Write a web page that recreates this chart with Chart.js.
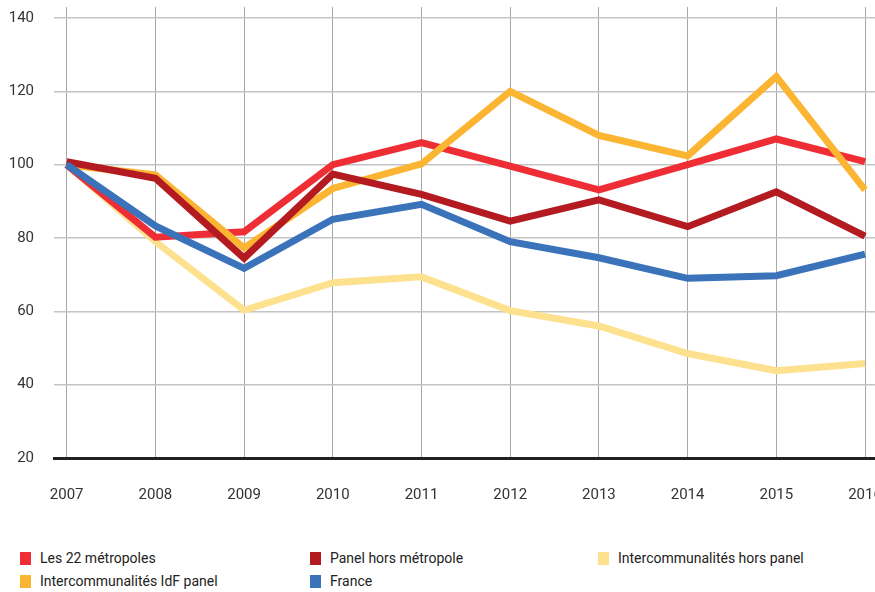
<!DOCTYPE html>
<html>
<head>
<meta charset="utf-8">
<script src="https://cdn.jsdelivr.net/npm/chart.js@4/dist/chart.umd.min.js"></script>
<style>
  html, body { margin: 0; padding: 0; background: #fff; overflow: hidden; }
  body { width: 875px; height: 592px; position: relative; font-family: "Roboto", "Liberation Sans", sans-serif; }
  #wrap { position: absolute; left: 0; top: 0; width: 895px; height: 520px; }
  .legend { position: absolute; left: 0; top: 550px; width: 875px; font-size: 14px; color: #222; }
  .item { position: absolute; height: 16px; line-height: 16px; white-space: nowrap; }
  .item i { display: inline-block; width: 11px; height: 13px; vertical-align: -2px; margin-right: 9px; }
</style>
</head>
<body>
<div id="wrap"><canvas id="chart"></canvas></div>
<div class="legend" id="legend"></div>
<script>
(function () {
  "use strict";

  var years = [2007, 2008, 2009, 2010, 2011, 2012, 2013, 2014, 2015, 2016];
  var yTicks = [20, 40, 60, 80, 100, 120, 140];

  var metropoles = [100, 80.2, 81.7, 100, 106, 99.6, 93.1, 100, 107, 100.8];
  var panelHorsMetropole = [100.8, 96.3, 74.5, 97.4, 91.9, 84.6, 90.4, 83.1, 92.6, 80.5];
  var interHorsPanel = [100, 79, 60.3, 67.8, 69.4, 60.2, 56, 48.5, 43.8, 45.8];
  var interIdfPanel = [100, 97.2, 77.3, 93.5, 100.2, 120, 108, 102.4, 124, 93.1];
  var france = [100, 83.3, 71.7, 85.1, 89.2, 79, 74.6, 69, 69.7, 75.6];

  var series = [
    { label: "Les 22 métropoles", data: metropoles, color: "#ee2e34", order: 4 },
    { label: "Panel hors métropole", data: panelHorsMetropole, color: "#b31b21", order: 2 },
    { label: "Intercommunalités hors panel", data: interHorsPanel, color: "#fee18e", order: 5 },
    { label: "Intercommunalités IdF panel", data: interIdfPanel, color: "#fbb532", order: 3 },
    { label: "France", data: france, color: "#3a73ba", order: 1 }
  ];

  var datasets = series.map(function (s) {
    return {
      label: s.label,
      data: s.data.map(function (v, i) { return { x: years[i], y: v }; }),
      borderColor: s.color,
      backgroundColor: s.color,
      borderWidth: 7,
      pointRadius: 0,
      tension: 0,
      fill: false,
      order: s.order
    };
  });

  // no automatic padding around the plot, the layout is fixed by hand
  function noPadding(axis) {
    axis.paddingTop = 0;
    axis.paddingBottom = 0;
    axis.paddingLeft = 0;
    axis.paddingRight = 0;
  }

  var ctx = document.getElementById("chart").getContext("2d");

  new Chart(ctx, {
    type: "line",
    data: { datasets: datasets },
    options: {
      responsive: true,
      maintainAspectRatio: false,
      animation: false,
      layout: { autoPadding: false, padding: { top: 7, right: 0, left: 0, bottom: 0 } },
      plugins: {
        legend: { display: false },
        tooltip: { enabled: false }
      },
      scales: {
        x: {
          type: "linear",
          min: 2006.857,
          max: 2016.338,
          afterBuildTicks: function (axis) {
            axis.ticks = years.map(function (y) { return { value: y }; });
          },
          afterFit: function (axis) { axis.height = 62; noPadding(axis); },
          grid: { color: "#a8a8a8", lineWidth: 1, drawTicks: false },
          border: { display: true, color: "#231f20", width: 3 },
          ticks: {
            padding: 28,
            autoSkip: false,
            maxRotation: 0,
            color: "#333",
            font: { family: "Roboto", size: 15 },
            callback: function (v) { return String(v); }
          }
        },
        y: {
          min: 20,
          max: 143,
          afterBuildTicks: function (axis) {
            axis.ticks = yTicks.map(function (v) { return { value: v }; });
          },
          afterFit: function (axis) { axis.width = 54; noPadding(axis); },
          grid: { color: "#c4c4c4", lineWidth: 1.5, drawTicks: false },
          border: { display: false },
          ticks: {
            padding: 20,
            color: "#333",
            font: { family: "Roboto", size: 15 }
          }
        }
      }
    }
  });

  // legend laid out in a grid like the original
  var legendPos = [
    [20, 0], [310, 0], [598, 0],
    [20, 23], [310, 23]
  ];
  var legend = document.getElementById("legend");
  series.forEach(function (s, i) {
    var el = document.createElement("div");
    el.className = "item";
    el.style.left = legendPos[i][0] + "px";
    el.style.top = legendPos[i][1] + "px";
    el.innerHTML = '<i style="background:' + s.color + '"></i>' + s.label;
    legend.appendChild(el);
  });
})();
</script>
</body>
</html>
